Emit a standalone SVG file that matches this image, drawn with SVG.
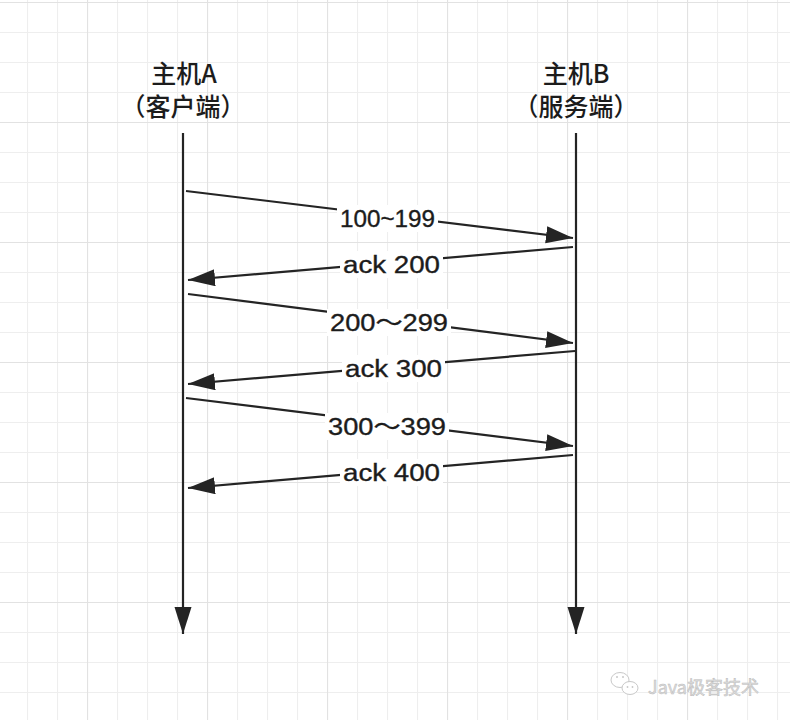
<svg xmlns="http://www.w3.org/2000/svg" width="790" height="720" viewBox="0 0 790 720">
  <style>
    .title { font-family: "Noto Sans CJK SC", "Liberation Sans", sans-serif; font-size: 25px; font-weight: 500; fill: #1c1c1c; text-anchor: middle; }
    .lbl { font-family: "Liberation Sans", "Noto Sans CJK SC", sans-serif; font-size: 23.5px; fill: #1c1c1c; stroke: #1c1c1c; stroke-width: 0.35; text-anchor: middle; }
    .msg { stroke: #242424; stroke-width: 2.2; fill: none; marker-end: url(#head); }
    .lblbg { fill: #ffffff; }
    .wm { font-family: "Noto Sans CJK SC", "Liberation Sans", sans-serif; font-size: 18px; fill: #dcdcdc; stroke: #bcbcbc; stroke-width: 0.5; }
  </style>
  <defs>
    <pattern id="gridMinor" x="27" y="2" width="30" height="30" patternUnits="userSpaceOnUse">
      <path d="M0.5,0 V30 M0,0.5 H30" stroke="#eeeeee" stroke-width="1.2" fill="none"/>
    </pattern>
    <pattern id="gridMajor" x="87" y="2" width="120" height="120" patternUnits="userSpaceOnUse">
      <path d="M0.5,0 V120 M0,0.5 H120" stroke="#e2e2e2" stroke-width="1.2" fill="none"/>
    </pattern>
    <marker id="head" markerUnits="userSpaceOnUse" markerWidth="28" markerHeight="19" refX="27" refY="8.5" orient="auto">
      <path d="M0,0 L27,8.5 L0,17 Z" fill="#242424"/>
    </marker>
  </defs>

  <rect x="0" y="0" width="790" height="720" fill="#ffffff"/>
  <rect x="0" y="0" width="790" height="720" fill="url(#gridMinor)"/>
  <rect x="0" y="0" width="790" height="720" fill="url(#gridMajor)"/>

  <g id="hostA">
    <text class="title" x="184" y="83">主机A</text>
    <text class="title" x="183" y="116">（客户端）</text>
  </g>
  <g id="hostB">
    <text class="title" x="576" y="83">主机B</text>
    <text class="title" x="576" y="116">（服务端）</text>
  </g>

  <g id="connectors">
    <line class="msg" x1="183" y1="133" x2="183" y2="634"/>
    <line class="msg" x1="576" y1="133" x2="576" y2="634"/>

    <line class="msg" x1="186" y1="191" x2="573" y2="238"/>
    <line class="msg" x1="573" y1="247" x2="188" y2="280"/>
    <line class="msg" x1="188" y1="294" x2="573" y2="343"/>
    <line class="msg" x1="575" y1="351" x2="188" y2="384"/>
    <line class="msg" x1="186" y1="398" x2="573" y2="446"/>
    <line class="msg" x1="573" y1="455" x2="188" y2="488"/>

    <rect class="lblbg" x="337" y="205" width="101" height="27"/>
    <text class="lbl" x="387.5" y="227" textLength="95" lengthAdjust="spacingAndGlyphs">100~199</text>
    <rect class="lblbg" x="340" y="251" width="103" height="27"/>
    <text class="lbl" x="391.5" y="273" textLength="97" lengthAdjust="spacingAndGlyphs">ack 200</text>
    <rect class="lblbg" x="327" y="309" width="124" height="27"/>
    <text class="lbl" x="389" y="331" textLength="118" lengthAdjust="spacingAndGlyphs">200～299</text>
    <rect class="lblbg" x="342" y="355" width="103" height="27"/>
    <text class="lbl" x="393.5" y="377" textLength="97" lengthAdjust="spacingAndGlyphs">ack 300</text>
    <rect class="lblbg" x="325" y="413" width="124" height="27"/>
    <text class="lbl" x="387" y="435" textLength="118" lengthAdjust="spacingAndGlyphs">300～399</text>
    <rect class="lblbg" x="340" y="459" width="103" height="27"/>
    <text class="lbl" x="391.5" y="481" textLength="97" lengthAdjust="spacingAndGlyphs">ack 400</text>
  </g>

  <g id="watermark">
    <ellipse cx="620" cy="680" rx="9" ry="7.5" fill="#ffffff" stroke="#c8c8c8" stroke-width="1"/>
    <ellipse cx="630" cy="688" rx="8" ry="6.5" fill="#ffffff" stroke="#c8c8c8" stroke-width="1"/>
    <circle cx="617" cy="677" r="1" fill="#c8c8c8"/>
    <circle cx="623" cy="677" r="1" fill="#c8c8c8"/>
    <circle cx="627.5" cy="687" r="0.9" fill="#c8c8c8"/>
    <circle cx="632.5" cy="687" r="0.9" fill="#c8c8c8"/>
    <text class="wm" x="648" y="694">Java极客技术</text>
  </g>
</svg>
